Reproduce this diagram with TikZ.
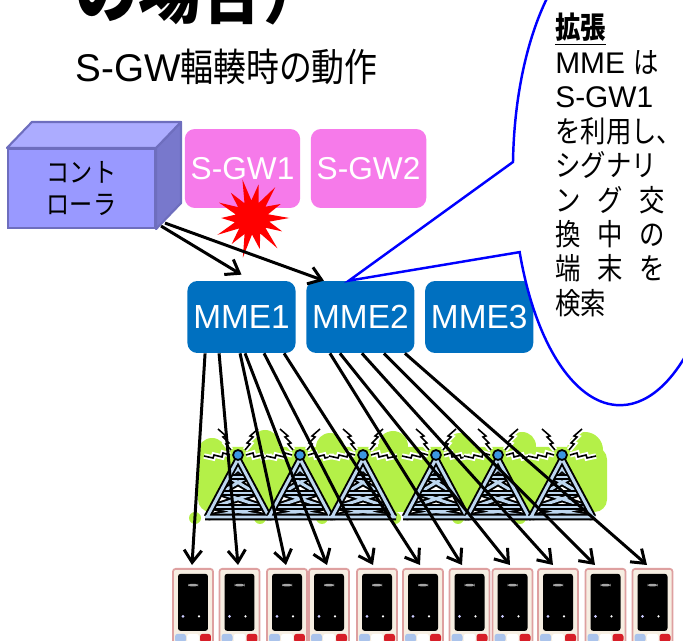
\documentclass[tikz,border=0pt]{standalone}
\usepackage{fontspec}
\setmainfont{Liberation Sans}
\newfontfamily\jp{Noto Sans CJK JP}[FakeStretch=0.85]
\usetikzlibrary{arrows.meta, positioning}
\definecolor{gwpink}{RGB}{246,122,234}
\definecolor{mmeblue}{RGB}{0,112,192}
\definecolor{ctrlfront}{RGB}{153,153,255}
\definecolor{ctrltop}{RGB}{172,172,255}
\definecolor{ctrlside}{RGB}{120,120,204}
\definecolor{ctrledge}{RGB}{110,110,190}
\definecolor{grass}{RGB}{180,240,72}
\definecolor{towerblue}{RGB}{190,215,240}
\definecolor{antenna}{RGB}{60,150,225}
\definecolor{phoneedge}{RGB}{222,160,160}
\definecolor{phonebody}{RGB}{246,238,226}
\definecolor{btnblue}{RGB}{170,195,235}
\definecolor{btnred}{RGB}{215,30,40}
\tikzset{
    gwbox/.style={
        fill=gwpink,
        rounded corners=0.2cm,
        minimum width=2.3cm,
        minimum height=1.58cm,
        text=white,
        font=\fontsize{18}{20}\selectfont
    },
    mmebox/.style={
        fill=mmeblue,
        rounded corners=0.2cm,
        minimum width=2.08cm,
        minimum height=1.44cm,
        text=white,
        font=\fontsize{19}{21}\selectfont
    },
    ctrlface/.style={
        draw=ctrledge,
        line width=1.2pt,
        fill=ctrlfront,
        minimum width=2.94cm,
        minimum height=1.58cm,
        align=center,
        font=\jp\fontsize{15.5}{18}\selectfont
    },
    phone/.style={
        draw=phoneedge,
        fill=phonebody,
        line width=1pt,
        rounded corners=1.5pt,
        minimum width=0.8cm,
        minimum height=1.5cm,
        inner sep=0pt,
        path picture={
            \fill[black] ([xshift=0.1cm,yshift=-0.1cm]path picture bounding box.north west)
                rectangle ([xshift=-0.1cm,yshift=0.26cm]path picture bounding box.south east);
            \fill[gray!70] ([xshift=-0.1cm,yshift=-0.3cm]path picture bounding box.north)
                rectangle +(0.2cm,-0.05cm);
            \fill[white!80!blue] ([xshift=-0.2cm,yshift=0.55cm]path picture bounding box.south) circle (0.9pt);
            \fill[white] ([xshift=0.12cm,yshift=0.55cm]path picture bounding box.south) circle (0.7pt);
            \fill[btnblue] ([shift={(0.04cm,0.03cm)}]path picture bounding box.south west) rectangle +(0.22cm,0.17cm);
            \fill[white] ([shift={(0.28cm,0.03cm)}]path picture bounding box.south west) rectangle +(0.24cm,0.17cm);
            \fill[btnred] ([shift={(0.54cm,0.03cm)}]path picture bounding box.south west) rectangle +(0.22cm,0.17cm);
        }
    },
    sigline/.style={-{Straight Barb[length=7pt,width=10pt]}, line width=1.7pt},
    callout/.style={draw=blue, line width=1.4pt, fill=white, line join=miter},
    bar/.style={draw=black, line width=1.1pt, double=towerblue, double distance=1.7pt},
    bolt/.style={draw=black, line width=0.9pt, preaction={draw=white, line width=3pt}},
    radiotower/.pic={
        \fill[white] (0,4) -- (-30,62) -- (30,62) -- cycle;
        % cross bracing
        \draw[bar] (-9.3,22) -- (17.6,38) (9.3,22) -- (-17.6,38)
                   (-17.6,38) -- (24.8,52) (17.6,38) -- (-24.8,52)
                   (-24.8,52) -- (30,62) (24.8,52) -- (-30,62)
                   (-3.5,11) -- (9.3,22) (3.5,11) -- (-9.3,22);
        \draw[bar] (-9.3,22) -- (9.3,22) (-17.6,38) -- (17.6,38) (-24.8,52) -- (24.8,52);
        % legs and foot
        \draw[bar] (-31,62) -- (0,4) -- (31,62) (-33,62) -- (33,62);
        % radio waves
        \draw[bolt] (-7,-5) -- (-12,-11) -- (-9,-12) -- (-15,-18) -- (-12,-19) -- (-20,-26);
        \draw[bolt] (7,-5) -- (12,-11) -- (9,-12) -- (15,-18) -- (12,-19) -- (20,-26);
        \draw[bolt] (-8,0) -- (-15,-2) -- (-16,2) -- (-24,0) -- (-25,3) -- (-34,1);
        \draw[bolt] (8,0) -- (15,-2) -- (16,2) -- (24,0) -- (25,3) -- (34,1);
        \filldraw[fill=antenna, draw=black, line width=1pt] (0,0) circle[radius=5];
    }
}

\begin{document}
\begin{tikzpicture}[x=0.02cm, y=-0.02cm, node distance=0.2cm]
\useasboundingbox (0,0) rectangle (683,641);
\clip (0,0) rectangle (683,641);

% headings
\node[anchor=base west, inner sep=0pt, font=\jp\bfseries\fontsize{42}{42}\selectfont] (title) at (75,18) {の場合）};
\node[anchor=base west, inner sep=0pt, font=\fontsize{22}{24}\selectfont] (subtitle) at (75,82) {S-GW{\jp 輻輳時の動作}};

% gateways and MMEs
\node[gwbox] (sgw1) at (242.5,168.5) {S-GW1};
\node[gwbox, right=of sgw1] (sgw2) {S-GW2};
\node[mmebox] (mme1) at (241.5,317) {MME1};
\node[mmebox, right=of mme1] (mme2) {MME2};
\node[mmebox, right=of mme2] (mme3) {MME3};

% congestion burst on S-GW1
\fill[red, shift={(252,218)}, scale=1.1] (0:34)
    \foreach \a/\r in {12/16,24/30,36/15,50/36,62/16,76/29,90/15,103/37,115/16,128/30,141/15,154/35,166/16,180/28,192/15,205/33,218/16,230/30,243/15,256/36,268/16,281/31,294/15,307/35,320/16,334/29,347/15} { -- (\a:\r)} -- cycle;

% controller box
\node[ctrlface] (ctrl) at (81.5,188.5) {コント\\ローラ};
\filldraw[fill=ctrlside, draw=ctrledge, line width=1.2pt, line join=round] (ctrl.north east) -- ++(0.5cm,0.52cm)
    -- ([shift={(0.5cm,0.52cm)}]ctrl.south east) -- (ctrl.south east) -- cycle;
\filldraw[fill=ctrltop, draw=ctrledge, line width=1.2pt, line join=round] (ctrl.north west) -- ++(0.5cm,0.52cm)
    -- ([shift={(0.5cm,0.52cm)}]ctrl.north east) -- (ctrl.north east) -- cycle;

\draw[sigline] ([xshift=0.1cm,yshift=0.06cm]ctrl.south east) -- ([yshift=0.12cm]mme1.north);
\draw[sigline] ([xshift=0.18cm,yshift=0.12cm]ctrl.south east) -- ([xshift=0.36cm]mme2.north west);

% callout
\coordinate (tip) at ([xshift=0.86cm]mme2.north west);
\draw[callout] (tip) -- (513,162) arc[start angle=182, end angle=519.6, x radius=107, y radius=235] -- cycle;
\node[anchor=north west, inner sep=0pt, align=left, font=\fontsize{17}{19.6}\selectfont] (note) at (555,13)
    {\underline{\jp\bfseries 拡張}\\
     MME {\jp は}\\
     S-GW1\\
     {\jp を利用し、}\\
     {\jp シグナリ}\\
     \makebox[2.2cm]{\jp ン\hfill グ\hfill 交}\\
     \makebox[2.2cm]{\jp 換\hfill 中\hfill の}\\
     \makebox[2.2cm]{\jp 端\hfill 末\hfill を}\\
     {\jp 検索}};

% radio area
\fill[grass, rounded corners=0.25cm] (198,447) rectangle (607,512);
\foreach \cx/\cy/\r in {212/452/14,265/444/14,330/447/14,393/446/15,460/447/14,522/446/14,585/450/18}
    \fill[grass] (\cx,\cy) circle[radius=\r];
\foreach \cx in {195,260,322,395,458,520}
    \fill[grass] (\cx,518) circle[radius=6];
\foreach \tx in {238,300,363,436,498,562}
    \pic at (\tx,455) {radiotower};

% terminals
\foreach \x [count=\i] in {193,239.5,287,329,377,423,469.5,512.5,558,605.5,652.5}
    \node[phone, anchor=north] (ph\i) at (\x,568) {};

% MME to terminal signalling
\foreach \m/\s/\p/\e in {mme1/0.36/1/-0.02, mme1/0.64/2/-0.03, mme1/1.06/3/-0.02, mme1/1.16/4/-0.04,
                         mme1/1.54/5/-0.08, mme1/1.94/6/-0.06, mme2/0.48/7/-0.15, mme2/0.68/8/-0.05,
                         mme2/1.12/9/-0.1, mme2/1.56/10/-0.21, mme2/1.98/11/-0.11}
    \draw[sigline] ([xshift=\s cm]\m.south west) -- ([xshift=\e cm, yshift=0.06cm]ph\p.north);
\end{tikzpicture}
\end{document}
